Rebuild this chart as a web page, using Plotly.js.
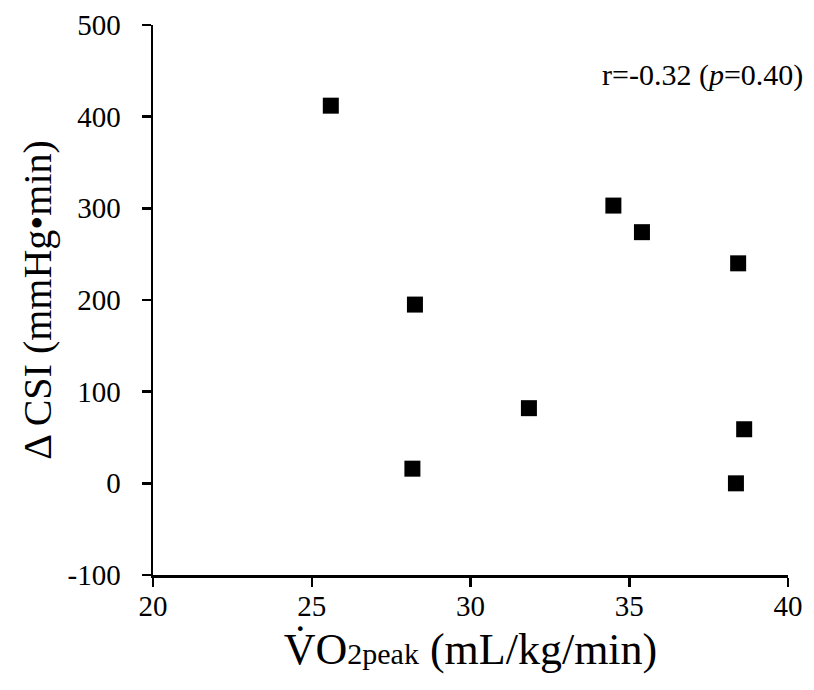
<!DOCTYPE html>
<html>
<head>
<meta charset="utf-8">
<script src="https://cdn.plot.ly/plotly-3.0.1.min.js"></script>
<style>html,body{margin:0;padding:0;background:#fff;}#chart{width:814px;height:690px;}</style>
</head>
<body>
<div id="chart"></div>
<script>
// Data
const vo2peak = [25.6, 28.25, 34.5, 35.4, 38.43, 31.84, 28.17, 38.62, 38.36];
const deltaCSI = [412, 195, 303, 274, 240, 82, 16, 59, 0];

const xTickVals = [20, 25, 30, 35, 40];
const xTickText = ["20", "25", "30", "35", "40"];
const yTickVals = [-100, 0, 100, 200, 300, 400, 500];
const yTickText = ["-100", "0", "100", "200", "300", "400", "500"];

const statsText = "r=-0.32 (<i>p</i>=0.40)";
const xTitle = "V\u0307O<span style=\"font-size:30px\">2peak</span> (mL/kg/min)";
const yTitle = "\u0394 CSI (mmHg\u2022min)";

const serif = "Liberation Serif, Times New Roman, serif";

const trace = {
  x: vo2peak,
  y: deltaCSI,
  type: "scatter",
  mode: "markers",
  marker: {symbol: "square", size: 16, color: "#000"},
  showlegend: false,
  hoverinfo: "x+y"
};

const layout = {
  width: 814,
  height: 690,
  margin: {l: 153, r: 26, t: 25, b: 115},
  paper_bgcolor: "#fff",
  plot_bgcolor: "#fff",
  font: {family: serif, color: "#000", size: 29},
  xaxis: {
    range: [20, 40],
    tickmode: "array",
    tickvals: xTickVals,
    ticktext: xTickText,
    showgrid: false,
    zeroline: false,
    showline: true,
    linecolor: "#000",
    linewidth: 2.5,
    ticks: "outside",
    ticklen: 9,
    tickwidth: 2.5,
    tickcolor: "#000",
    ticklabelstandoff: -5,
    tickfont: {family: serif, size: 29, color: "#000"},
    title: {text: xTitle, font: {family: serif, size: 44, color: "#000"}, standoff: 12}
  },
  yaxis: {
    range: [-100, 500],
    tickmode: "array",
    tickvals: yTickVals,
    ticktext: yTickText,
    showgrid: false,
    zeroline: false,
    showline: true,
    linecolor: "#000",
    linewidth: 2.5,
    ticks: "outside",
    ticklen: 9,
    tickwidth: 2.5,
    tickcolor: "#000",
    ticklabelstandoff: 15,
    tickfont: {family: serif, size: 29, color: "#000"},
    title: {text: yTitle, font: {family: serif, size: 40, color: "#000"}, standoff: 4}
  },
  annotations: [{
    text: statsText,
    xref: "paper", yref: "paper",
    x: 0.8654, y: 0.909,
    xanchor: "center", yanchor: "middle",
    showarrow: false,
    font: {family: serif, size: 30, color: "#000"}
  }]
};

Plotly.newPlot("chart", [trace], layout, {displayModeBar: false, staticPlot: true});
</script>
</body>
</html>
